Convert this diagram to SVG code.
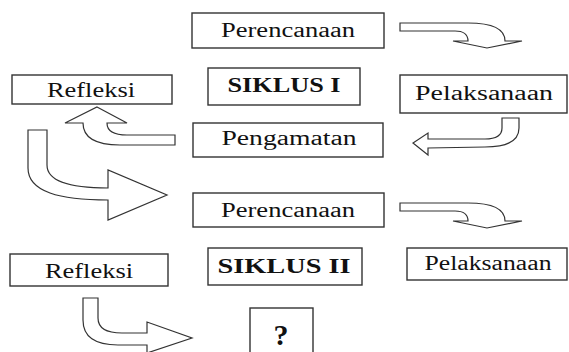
<svg xmlns="http://www.w3.org/2000/svg" width="569" height="352" viewBox="0 0 569 352">
<style>
.box{fill:#fff;stroke:#333;stroke-width:1.4}
.arr{fill:#fff;stroke:#333;stroke-width:1.2;stroke-linejoin:miter}
.t{font-family:"Liberation Serif","Times New Roman",serif;font-size:20px;fill:#111;text-anchor:middle}
.b{font-weight:bold}
.q{font-size:30px}
</style>
<rect width="569" height="352" fill="#fff"/>
<g id="connectors">
<path class="arr" d="M400,23 L468,23 C495,23 505,30 505,41 L522,41 L487,48 L453,41 L468,41 C468,34 463,31 455,31 L400,31 Z"/>
<path class="arr" d="M502,118 L519,118 L519,128 C519,142 505,147 485,147 L428,148 L428,155 L413,143 L428,133 L428,139 L485,139 C497,139 502,135 502,128 Z"/>
<path class="arr" d="M97,107 L127,123 L107,123 C107,131 113,135 127,135 L175,135 L175,145 L120,145 C95,145 83,137 83,123 L65,123 Z"/>
<path class="arr" d="M28,130 L47,130 L47,165 C47,180 65,188 108,188 L108,170 L167,195 L108,220 L108,200 C60,200 28,192 28,168 Z"/>
<path class="arr" d="M400,203 L468,203 C495,203 505,210 505,221 L522,221 L487,228 L453,221 L468,221 C468,214 463,211 455,211 L400,211 Z"/>
<path class="arr" d="M83,298 L98,298 L98,318 C98,328 106,333 122,333 L147,333 L147,322 L192,338 L147,353 L147,345 L118,345 C95,345 83,337 83,320 Z"/>
</g>
<g id="perencanaan1"><rect class="box" x="192" y="13" width="192" height="35"/><text class="t" x="288" y="37" textLength="134" lengthAdjust="spacingAndGlyphs">Perencanaan</text></g>
<g id="siklus1"><rect class="box" x="208" y="68" width="152" height="37"/><text class="t b" x="284" y="92" textLength="113" lengthAdjust="spacingAndGlyphs">SIKLUS I</text></g>
<g id="pelaksanaan1"><rect class="box" x="400" y="75" width="167" height="38"/><text class="t" x="484" y="100" textLength="138" lengthAdjust="spacingAndGlyphs">Pelaksanaan</text></g>
<g id="refleksi1"><rect class="box" x="12" y="75" width="160" height="29"/><text class="t" x="91" y="97" textLength="88" lengthAdjust="spacingAndGlyphs">Refleksi</text></g>
<g id="pengamatan"><rect class="box" x="193" y="123" width="190" height="34"/><text class="t" x="289" y="145" textLength="135" lengthAdjust="spacingAndGlyphs">Pengamatan</text></g>
<g id="perencanaan2"><rect class="box" x="193" y="193" width="191" height="34"/><text class="t" x="288" y="217" textLength="134" lengthAdjust="spacingAndGlyphs">Perencanaan</text></g>
<g id="siklus2"><rect class="box" x="208" y="248" width="154" height="37"/><text class="t b" x="284" y="273" textLength="133" lengthAdjust="spacingAndGlyphs">SIKLUS II</text></g>
<g id="pelaksanaan2"><rect class="box" x="407" y="248" width="160" height="32"/><text class="t" x="488" y="270" textLength="127" lengthAdjust="spacingAndGlyphs">Pelaksanaan</text></g>
<g id="refleksi2"><rect class="box" x="10" y="254" width="158" height="32"/><text class="t" x="89" y="278" textLength="88" lengthAdjust="spacingAndGlyphs">Refleksi</text></g>
<g id="question"><rect class="box" x="250" y="308" width="63" height="60"/><text class="t b q" x="281" y="345">?</text></g>
</svg>
